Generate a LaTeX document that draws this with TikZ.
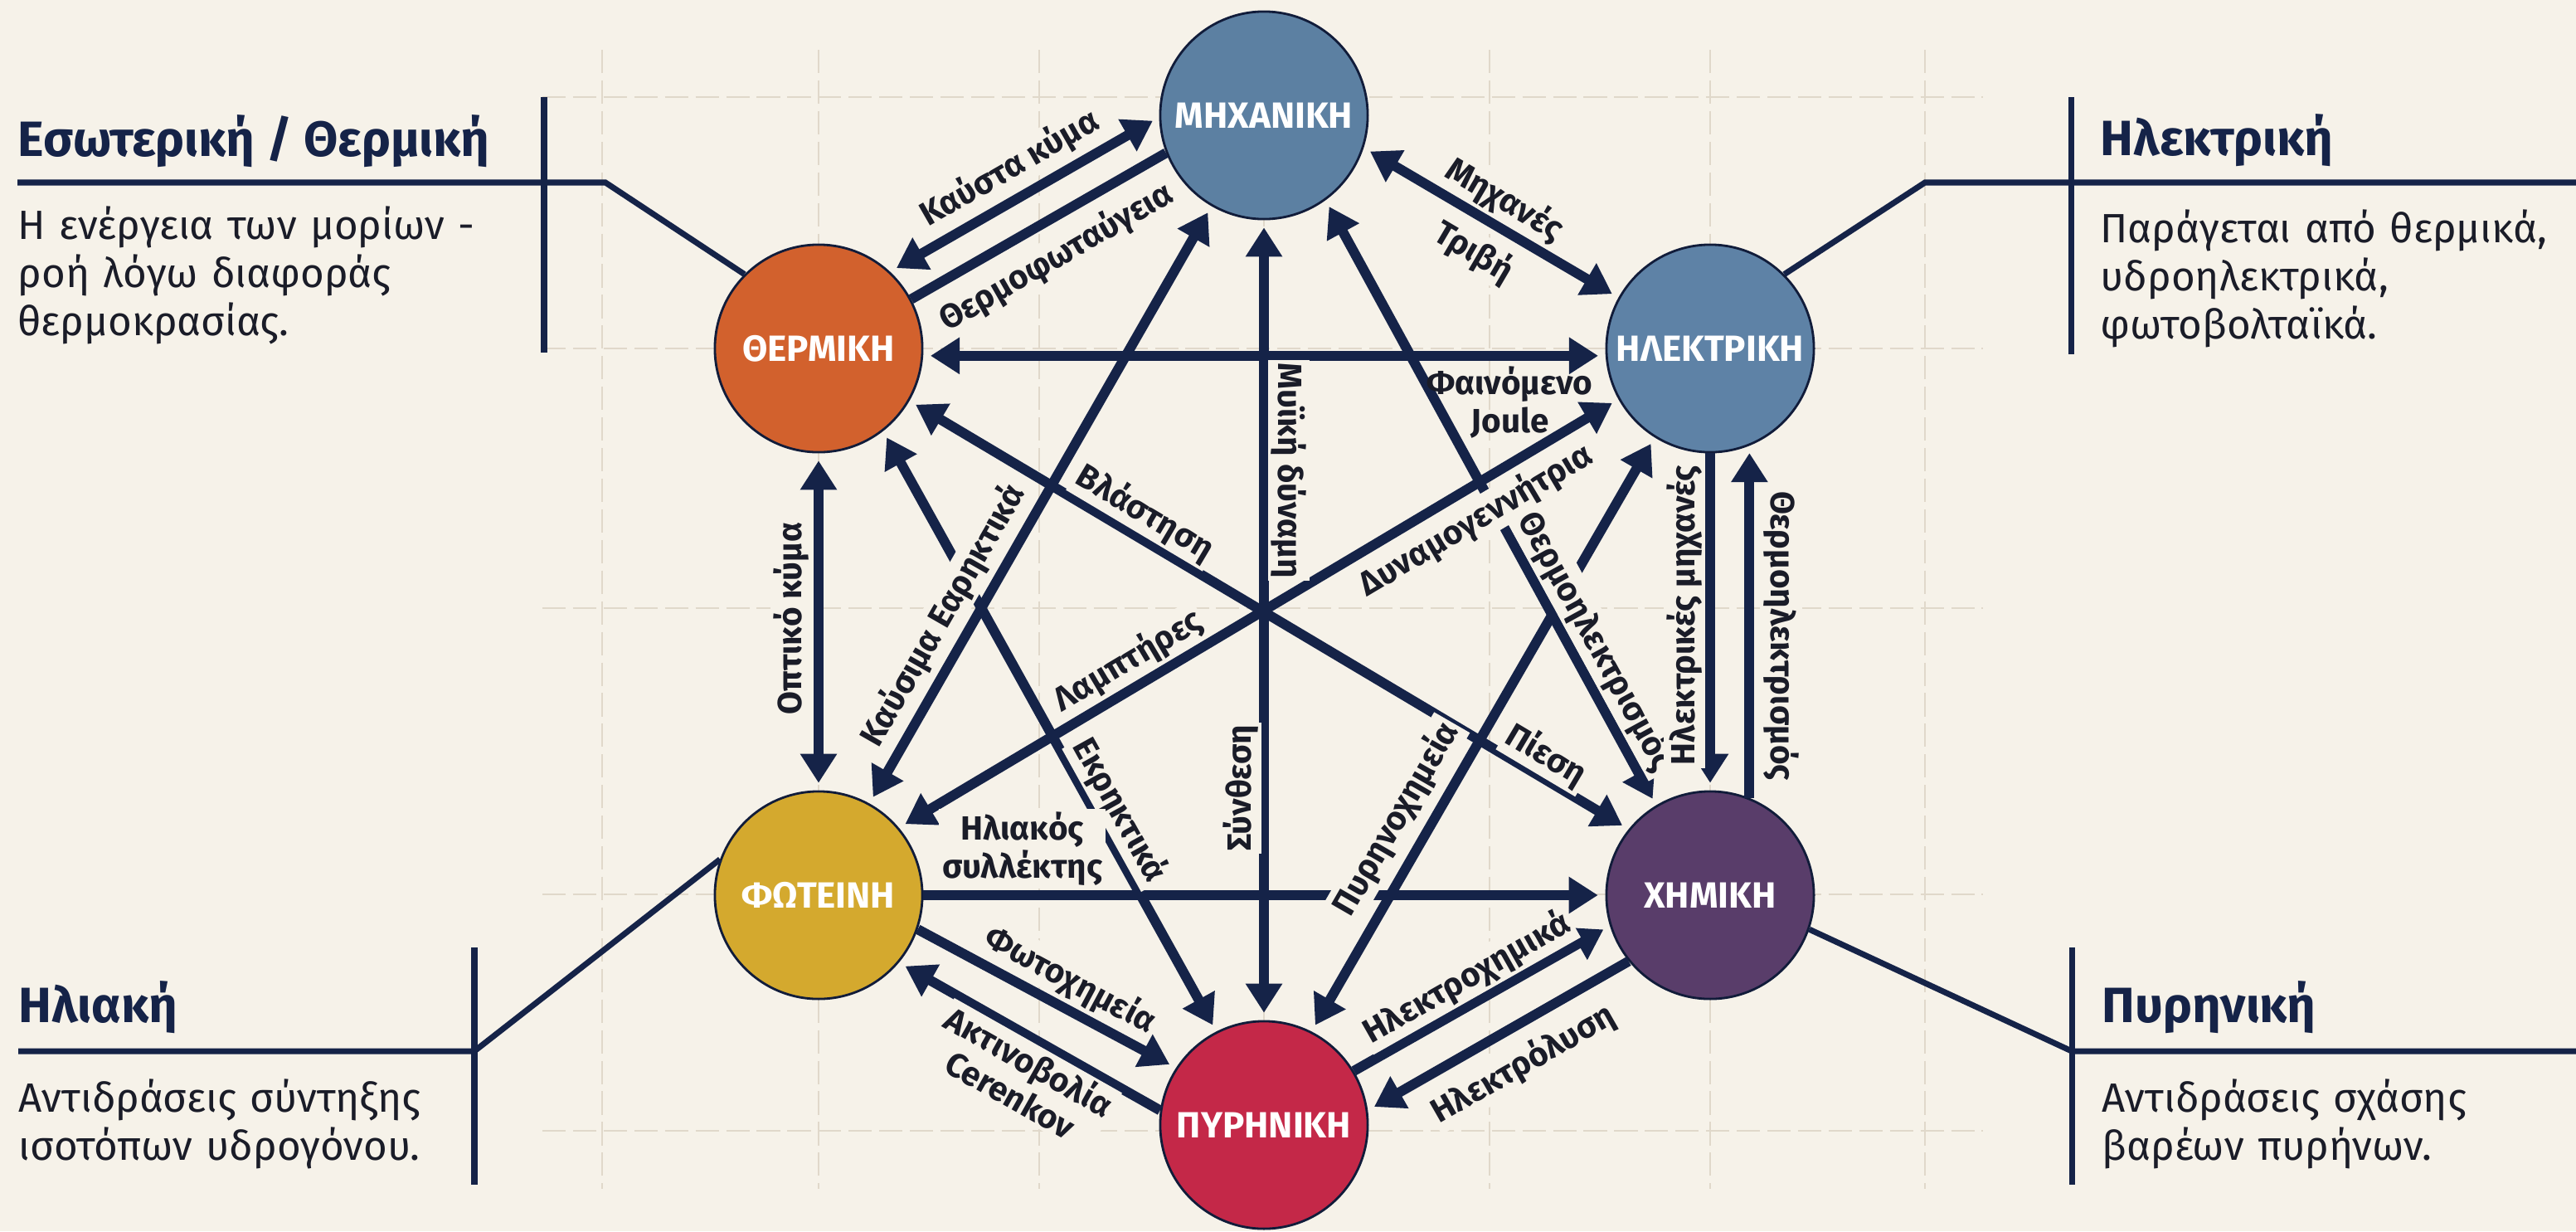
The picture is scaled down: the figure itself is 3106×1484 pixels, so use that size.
\documentclass[tikz,border=0pt]{standalone}
\usepackage{fontspec}
\setmainfont{Fira Sans}
\usetikzlibrary{arrows.meta}

\definecolor{paper}{RGB}{246,242,233}
\definecolor{gridc}{RGB}{224,216,202}
\definecolor{navy}{RGB}{21,35,72}
\definecolor{ink}{RGB}{26,28,40}
\definecolor{mechc}{RGB}{92,128,162}
\definecolor{elecc}{RGB}{94,130,166}
\definecolor{thermc}{RGB}{210,97,45}
\definecolor{lightc}{RGB}{212,169,46}
\definecolor{chemc}{RGB}{89,61,106}
\definecolor{nuclc}{RGB}{196,40,72}

\begin{document}
\begin{tikzpicture}[x=0.01cm,y=-0.01cm,
  energy/.style={circle,minimum size=2.5cm,inner sep=0pt,draw=navy!80!black,line width=0.8pt,
    text=white,font=\bfseries\fontsize{12.5}{14}\selectfont},
  link/.style={navy,line width=3.4pt},
  both/.style={link,{Triangle[length=10pt,width=12pt]}-{Triangle[length=10pt,width=12pt]},
    shorten <=2.5pt,shorten >=2.5pt},
  one/.style={link,-{Triangle[length=10pt,width=12pt]},shorten >=2.5pt},
  lbl/.style={font=\bfseries\fontsize{11.5}{13}\selectfont,text=ink,fill=paper,inner sep=1pt},
  gridline/.style={gridc,line width=0.7pt,dash pattern=on 8pt off 2.5pt},
  leader/.style={navy,line width=2pt},
  head/.style={font=\bfseries\fontsize{17}{19}\selectfont,text=navy,inner sep=0pt,anchor=base west},
  desc/.style={font=\fontsize{14}{16.5}\selectfont,text=ink,inner sep=0pt,anchor=base west,
    align=left,text width=6.4cm}]
 \fill[paper] (0,0) rectangle (3106,1484);
 \useasboundingbox (0,0) rectangle (3106,1484);

 % background grid
 \foreach \gx in {726,987,1253,1524,1796,2062,2321}
   \draw[gridline] (\gx,60) -- (\gx,1433);
 \foreach \gy in {117,420,733,1078,1363}
   \draw[gridline] (654,\gy) -- (2391,\gy);

 % forms of energy
 \node[energy,fill=mechc] (mech) at (1524,139) {ΜΗΧΑΝΙΚΗ};
 \node[energy,fill=thermc] (therm) at (987,420) {ΘΕΡΜΙΚΗ};
 \node[energy,fill=elecc] (elec) at (2062,420) {ΗΛΕΚΤΡΙΚΗ};
 \node[energy,fill=lightc] (light) at (987,1079) {ΦΩΤΕΙΝΗ};
 \node[energy,fill=chemc] (chem) at (2062,1079) {ΧΗΜΙΚΗ};
 \node[energy,fill=nuclc] (nucl) at (1524,1356) {ΠΥΡΗΝΙΚΗ};

 % conversions
 \draw[both] (therm.47) -- (mech.181);
 \draw[link] (therm.28) -- (mech.201);
 \draw[both] (mech.-18) -- (elec.151);
 \draw[both] (therm.-4) -- (elec.184);
 \draw[both] (light.90) -- (therm.-90);
 \draw[both] (therm.-52) -- (nucl.117);
 \draw[both] (light.61) -- (mech.240);
 \draw[both] (mech.-90) -- (nucl.90);
 \draw[both] (nucl.63) -- (elec.238);
 \draw[both] (mech.-54) -- (chem.121);
 \draw[both] (therm.-30) -- (chem.141);
 \draw[both] (light.40) -- (elec.209);
 \draw[one] (light.0) -- (chem.180);
 \draw[one] (light.-19) -- (nucl.147);
 \draw[one] (nucl.172) -- (light.-40);
 \draw[one] (nucl.31) -- (chem.197);
 \draw[one] (chem.219) -- (nucl.8);
 \draw[one] (elec.-90) -- (chem.90);
 \draw[one] (chem.68) -- (elec.-68);

 % labels on top of the lines
 \path (therm.47) -- (mech.181) node[lbl,sloped,above=3pt,pos=0.5] {Καύστα κύμα};
 \path (therm.28) -- (mech.201) node[lbl,sloped,below=5pt,pos=0.5] {Θερμοφωταύγεια};
 \path (mech.-18) -- (elec.151) node[lbl,sloped,above=1.7pt,pos=0.5] {Μηχανές}
   node[lbl,sloped,below=4.5pt,pos=0.5] {Τριβή};
 \path (therm.-4) -- (elec.184) node[lbl,below=2.5pt,pos=0.86,align=center,fill=none] {Φαινόμενο\\Joule};
 \path (therm.-90) -- (light.90) node[lbl,pos=0.49,xshift=-9.4pt,rotate=90] {Οπτικό κύμα};
 \path (therm.-52) -- (nucl.117) node[lbl,sloped,above=0.5pt,pos=0.65] {Εκρηκτικά};
 \path (light.61) -- (mech.240) node[lbl,sloped,above=2.8pt,pos=0.29] {Καύσιμα Εαρηκτικά};
 \path (mech.-90) -- (nucl.90) node[lbl,pos=0.313,xshift=8.5pt,rotate=-90] {Μυϊκή δύναμη}
   node[lbl,pos=0.71,xshift=-8pt,rotate=90] {Σύνθεση};
 \path (nucl.63) -- (elec.238) node[lbl,sloped,above=4pt,pos=0.33] {Πυρηνοχημεία};
 \path (mech.-54) -- (chem.121) node[lbl,sloped,above=1.5pt,pos=0.75] {Θερμοηλεκτρισμός};
 \path (therm.-30) -- (chem.141) node[lbl,sloped,above=1pt,pos=0.31] {Βλάστηση}
   node[lbl,sloped,above=0pt,pos=0.87] {Πίεση};
 \path (light.40) -- (elec.209) node[lbl,sloped,above=1.7pt,pos=0.337] {Λαμπτήρες}
   node[lbl,sloped,below=3.4pt,pos=0.78] {Δυναμογεννήτρια};
 \path (light.0) -- (chem.180) node[lbl,above=2.2pt,pos=0.145,align=center] {Ηλιακός\\συλλέκτης};
 \path (light.-19) -- (nucl.147) node[lbl,sloped,above=2pt,pos=0.54] {Φωτοχημεία};
 \path (light.-40) -- (nucl.172) node[lbl,sloped,below=1pt,pos=0.54,align=center] {Ακτινοβολία\\Cerenkov};
 \path (nucl.31) -- (chem.197) node[lbl,sloped,above=1.3pt,pos=0.49] {Ηλεκτροχημικά};
 \path (nucl.8) -- (chem.219) node[lbl,sloped,below=5.4pt,pos=0.525] {Ηλεκτρόλυση};
 \path (elec.-90) -- (chem.90) node[lbl,pos=0.48,xshift=-8.8pt,rotate=90] {Ηλεκτρικές μηχανές};
 \path (elec.-68) -- (chem.68) node[lbl,pos=0.54,xshift=11pt,rotate=-90] {Θερμοηλεκτρισμός};

 % side notes
 \coordinate (thermk) at (730,220);
 \coordinate (therme) at (21,220);
 \draw[leader] (therm.135) -- (thermk) -- (therme);
 \draw[leader] (656,117) -- (656,425);
 \node[head] (thermh) at (21,188) {Εσωτερική / Θερμική};
 \node[desc] (thermd) at (21,288) {Η ενέργεια των μορίων -\\ροή λόγω διαφοράς\\θερμοκρασίας.};

 \coordinate (eleck) at (2321,220);
 \coordinate (elece) at (3106,220);
 \draw[leader] (elec.45) -- (eleck) -- (elece);
 \draw[leader] (2497,117) -- (2497,427);
 \node[head] (elech) at (2532,187) {Ηλεκτρική};
 \node[desc] (elecd) at (2532,292) {Παράγεται από θερμικά,\\υδροηλεκτρικά,\\φωτοβολταϊκά.};

 \coordinate (lightk) at (572,1267);
 \coordinate (lighte) at (22,1267);
 \draw[leader] (light.160) -- (lightk) -- (lighte);
 \draw[leader] (572,1142) -- (572,1428);
 \node[head] (lighth) at (22,1232) {Ηλιακή};
 \node[desc] (lightd) at (22,1340) {Αντιδράσεις σύντηξης\\ισοτόπων υδρογόνου.};

 \coordinate (chemk) at (2498,1267);
 \coordinate (cheme) at (3106,1267);
 \draw[leader] (chem.-19) -- (chemk) -- (cheme);
 \draw[leader] (2498,1142) -- (2498,1428);
 \node[head] (chemh) at (2534,1232) {Πυρηνική};
 \node[desc] (chemd) at (2534,1340) {Αντιδράσεις σχάσης\\βαρέων πυρήνων.};
\end{tikzpicture}
\end{document}
